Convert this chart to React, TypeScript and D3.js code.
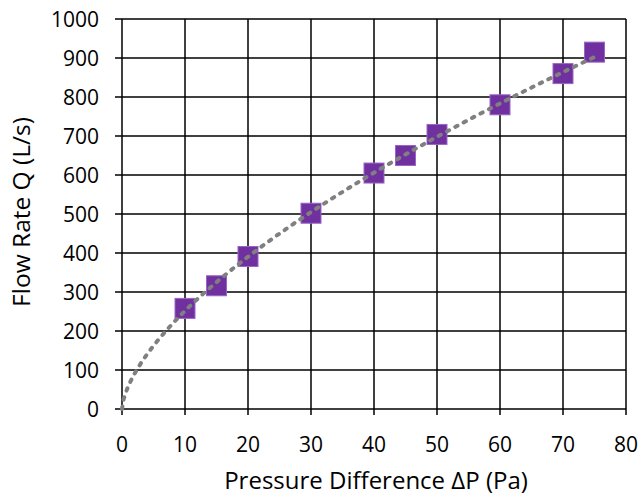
import React from "react";
import * as d3 from "d3";

const pressure = [10, 15, 20, 30, 40, 45, 50, 60, 70, 75];
const flow = [258, 316, 391, 502, 605, 650, 704, 780, 860, 915];
const xTicks = [0, 10, 20, 30, 40, 50, 60, 70, 80];
const yTicks = [0, 100, 200, 300, 400, 500, 600, 700, 800, 900, 1000];

export default function App() {
  const W = 640, H = 495;
  const x = d3.scaleLinear().domain([0, 80]).range([122, 626]);
  const y = d3.scaleLinear().domain([0, 1000]).range([409, 19]);

  // power-law trendline (least squares in log space), as a spreadsheet would fit
  const lx = pressure.map(Math.log);
  const ly = flow.map(Math.log);
  const mx = d3.mean(lx)!, my = d3.mean(ly)!;
  const b = d3.sum(lx.map((v, i) => (v - mx) * (ly[i] - my))) / d3.sum(lx.map(v => (v - mx) ** 2));
  const a = Math.exp(my - b * mx);
  const trendX = d3.range(0, 75.01, 0.25);
  const line = d3.line<number>().x(d => x(d)).y(d => y(a * Math.pow(d, b))).curve(d3.curveLinear);

  const font = "Open Sans, sans-serif";
  const sq = 20;
  return (
    <svg width={W} height={H} style={{ position: "absolute", left: 0, top: 0, background: "#fff" }}>
      <rect width={W} height={H} fill="#fff" />
      {/* grid */}
      {yTicks.map(t => (
        <line key={"gy" + t} x1={115} x2={x(80)} y1={y(t)} y2={y(t)} stroke="#000" strokeWidth={1.5} />
      ))}
      {xTicks.map(t => (
        <line key={"gx" + t} x1={x(t)} x2={x(t)} y1={y(1000)} y2={y(0) + 6} stroke="#000" strokeWidth={1.5} />
      ))}
      {/* markers */}
      {pressure.map((p, i) => (
        <rect key={"m" + i} x={x(p) - sq / 2} y={y(flow[i]) - sq / 2} width={sq} height={sq}
          fill="#7030A0" stroke="#9966c4" strokeWidth={1} />
      ))}
      {/* trendline */}
      <path d={line(trendX) || ""} fill="none" stroke="#808080" strokeWidth={4}
        strokeDasharray="2.5 7" strokeLinecap="round" />
      {/* tick labels */}
      {yTicks.map(t => (
        <text key={"ty" + t} x={99} y={y(t) + 7.5} textAnchor="end"
          fontFamily={font} fontSize={21} fill="#000">{t}</text>
      ))}
      {xTicks.map(t => (
        <text key={"tx" + t} x={x(t)} y={451.5} textAnchor="middle"
          fontFamily={font} fontSize={21} fill="#000">{t}</text>
      ))}
      <text x={376} y={489} textAnchor="middle" fontFamily={font} fontSize={24} fill="#000">
        Pressure Difference ΔP (Pa)
      </text>
      <text transform="translate(30,212) rotate(-90)" textAnchor="middle"
        fontFamily={font} fontSize={24.5} fill="#000">
        Flow Rate Q (L/s)
      </text>
    </svg>
  );
}
